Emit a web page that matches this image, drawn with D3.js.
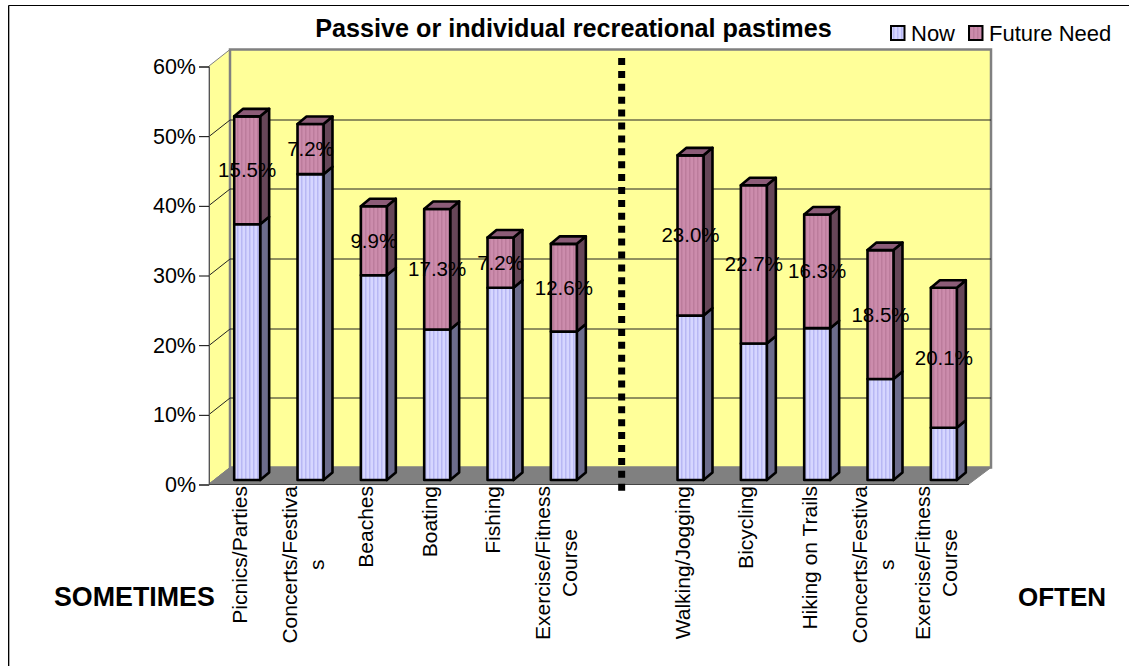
<!DOCTYPE html>
<meta charset="utf-8">
<style>
  body { margin: 0; background: #fff; }
  text { font-family: "Liberation Sans", Arial, sans-serif; fill: #000; }
</style>
<script src="https://d3js.org/d3.v7.min.js"></script>
<div id="chart"></div>
<script>
  var width = 1129
  var height = 666

  // one empty slot in the middle holds the dotted divider
  var categories = ["Picnics/Parties", "Concerts/Festivals", "Beaches", "Boating", "Fishing", "Exercise/Fitness Course", "",
                    "Walking/Jogging", "Bicycling", "Hiking on Trails", "Concerts/Festivals ", "Exercise/Fitness Course "]
  var nowValues = [36.7, 43.9, 29.4, 21.6, 27.6, 21.3, null, 23.6, 19.6, 21.8, 14.5, 7.5]
  var futureValues = [15.5, 7.2, 9.9, 17.3, 7.2, 12.6, null, 23.0, 22.7, 16.3, 18.5, 20.1]
  var yTicks = [0, 10, 20, 30, 40, 50, 60]
  var seriesNames = ["Now", "Future Need"]

  // label line breaks as the category axis wraps them
  var labelLines = {
    "Concerts/Festivals": ["Concerts/Festiva", "s"],
    "Concerts/Festivals ": ["Concerts/Festiva", "s"],
    "Exercise/Fitness Course": ["Exercise/Fitness", "Course"],
    "Exercise/Fitness Course ": ["Exercise/Fitness", "Course"]
  }

  var x0 = 209, x1 = 969, y0 = 484, y1 = 66
  var depthX = 21, depthY = 16.5 // wall offset from the front plane
  var barDx = 6.5, barDy = 4     // bars stand a little way into the floor
  var sideX = 9, sideY = 7.5     // depth of a bar

  var svg = d3.select("#chart").append("svg")
    .attr("width", width)
    .attr("height", height)
    .style("display", "block")

  var defs = svg.append("defs")
  function stripes(id, base, stripe) {
    var p = defs.append("pattern")
      .attr("id", id)
      .attr("patternUnits", "userSpaceOnUse")
      .attr("width", 4)
      .attr("height", 4)
    p.append("rect").attr("width", 4).attr("height", 4).attr("fill", base)
    p.append("rect").attr("x", 1).attr("width", 1.5).attr("height", 4).attr("fill", stripe)
  }
  stripes("nowFill", "#d6d6ff", "#b8b8f4")
  stripes("futureFill", "#cc8cac", "#bc7c9c")

  var x = d3.scaleBand().domain(categories).range([x0, x1]).paddingInner(0.59).paddingOuter(0.295)
  var y = d3.scaleLinear().domain([0, 60]).range([y0, y1])

  // frame: only the top and left edges fall inside the picture
  svg.append("line").attr("x1", 9.5).attr("x2", 9.5).attr("y1", 6).attr("y2", height).attr("stroke", "#aaa")
  svg.append("path")
    .attr("d", "M8.5," + height + "V5.5H" + width)
    .attr("fill", "none").attr("stroke", "#000")

  // side wall, back wall, floor
  function poly(pts, fill, stroke) {
    return svg.append("polygon")
      .attr("points", pts.map(function(p){ return p.join(",") }).join(" "))
      .attr("fill", fill)
      .attr("stroke", stroke)
      .attr("stroke-width", 1)
  }
  poly([[x0, y0], [x0 + depthX, y0 - depthY], [x0 + depthX, y1 - depthY], [x0, y1]], "#ffff99", "#808080")
  poly([[x0 + depthX, y0 - depthY], [x1 + depthX + 1, y0 - depthY], [x1 + depthX + 1, y1 - depthY], [x0 + depthX, y1 - depthY]], "#ffff99", "#808080").attr("stroke-width", 2.5)
  poly([[x0, y0], [x1, y0], [x1 + depthX + 1, y0 - depthY], [x0 + depthX, y0 - depthY]], "#808080", "#808080")

  // gridlines wrap from the side wall onto the back wall
  var grid = svg.append("g").attr("fill", "none").attr("stroke", "#222").attr("stroke-width", 1)
  yTicks.slice(1, -1).forEach(function(t){
    var py = Math.round(y(t)) + 0.5
    grid.append("polyline")
      .attr("points", [[x0, py], [x0 + depthX, py - depthY], [x1 + depthX + 1, py - depthY]].map(function(p){ return p.join(",") }).join(" "))
  })

  // value axis
  var axis = svg.append("g")
    .attr("transform", "translate(" + x0 + ",0.5)")
    .call(d3.axisLeft(y).tickValues(yTicks).tickSize(10).tickPadding(3).tickFormat(function(d){ return d + "%" }))
  axis.select(".domain").attr("stroke", "#555")
  axis.selectAll("text").style("font-size", "21.5px")
  svg.append("line")
    .attr("x1", x0).attr("x2", x1).attr("y1", y0 + 0.5).attr("y2", y0 + 0.5)
    .attr("stroke", "#444")

  // bars
  var stack = []
  categories.forEach(function(c, i){
    if (nowValues[i] === null) return
    stack.push({ cat: c, from: 0, to: nowValues[i], fill: "url(#nowFill)", side: "#6c6c8c", top: "#8c8cb0" })
    stack.push({ cat: c, from: nowValues[i], to: nowValues[i] + futureValues[i], fill: "url(#futureFill)", side: "#664658", top: "#8c5c78", label: futureValues[i] })
  })
  var bars = svg.append("g").attr("stroke", "#000").attr("stroke-width", 2.6).attr("stroke-linejoin", "round")
  var seg = bars.selectAll("g").data(stack).enter().append("g")
  function bx(d){ return x(d.cat) + barDx }
  function by(v){ return y(v) - barDy }
  seg.append("polygon")
    .attr("points", function(d){
      var r = bx(d) + x.bandwidth()
      return [[r, by(d.to)], [r + sideX, by(d.to) - sideY], [r + sideX, by(d.from) - sideY], [r, by(d.from)]].join(" ")
    })
    .attr("fill", function(d){ return d.side })
  seg.append("rect")
    .attr("x", bx)
    .attr("y", function(d){ return by(d.to) })
    .attr("width", x.bandwidth())
    .attr("height", function(d){ return by(d.from) - by(d.to) })
    .attr("fill", function(d){ return d.fill })
  seg.filter(function(d){ return d.label }).append("polygon")
    .attr("points", function(d){
      var l = bx(d), r = l + x.bandwidth(), t = by(d.to)
      return [[l, t], [l + sideX, t - sideY], [r + sideX, t - sideY], [r, t]].join(" ")
    })
    .attr("fill", function(d){ return d.top })

  // value labels
  svg.append("g").selectAll("text")
    .data(stack.filter(function(d){ return d.label }))
    .enter().append("text")
    .attr("x", function(d){ return bx(d) + x.bandwidth() / 2 })
    .attr("y", function(d){ return by((d.from + d.to) / 2) + 7 })
    .attr("text-anchor", "middle")
    .style("font-size", "20.5px")
    .text(function(d){ return d.label.toFixed(1) + "%" })

  // divider between the two groups
  svg.append("line")
    .attr("x1", x("") + x.bandwidth() / 2 + 1).attr("x2", x("") + x.bandwidth() / 2 + 1)
    .attr("y1", 58).attr("y2", 491)
    .attr("stroke", "#000").attr("stroke-width", 7).attr("stroke-dasharray", "7 5.9")

  // category labels, rotated, lines centred on the longest one
  categories.forEach(function(c){
    if (!c) return
    var lines = labelLines[c] || [c]
    var cx = x(c) + x.bandwidth() / 2
    var base = lines.length > 1 ? cx - 7 : cx + 6
    var t = svg.append("g").selectAll("text").data(lines).enter().append("text")
      .attr("text-anchor", lines.length > 1 ? "middle" : "end")
      .style("font-size", "21px")
      .text(function(l){ return l })
    var longest = d3.max(t.nodes(), function(n){ return n.getComputedTextLength() })
    var mid = lines.length > 1 ? -(486 + longest / 2) : -486
    t.attr("transform", function(l, i){
      return "translate(" + (base + i * 27) + ",0) rotate(-90)"
    }).attr("x", mid)
  })

  // title and side captions
  svg.append("text").attr("x", 573.5).attr("y", 37).attr("text-anchor", "middle")
    .style("font-size", "25.2px").style("font-weight", "bold")
    .text("Passive or individual recreational pastimes")
  svg.append("text").attr("x", 54).attr("y", 606)
    .style("font-size", "26.8px").style("font-weight", "bold").text("SOMETIMES")
  svg.append("text").attr("x", 1018).attr("y", 606)
    .style("font-size", "26px").style("font-weight", "bold").text("OFTEN")

  // legend
  var legendX = [891, 969]
  seriesNames.forEach(function(s, i){
    svg.append("rect")
      .attr("x", legendX[i]).attr("y", 26).attr("width", 13.5).attr("height", 14)
      .attr("fill", i === 0 ? "url(#nowFill)" : "url(#futureFill)")
      .attr("stroke", "#000").attr("stroke-width", 2)
    svg.append("text").attr("x", legendX[i] + 20).attr("y", 41)
      .style("font-size", "22px").text(s)
  })
</script>
